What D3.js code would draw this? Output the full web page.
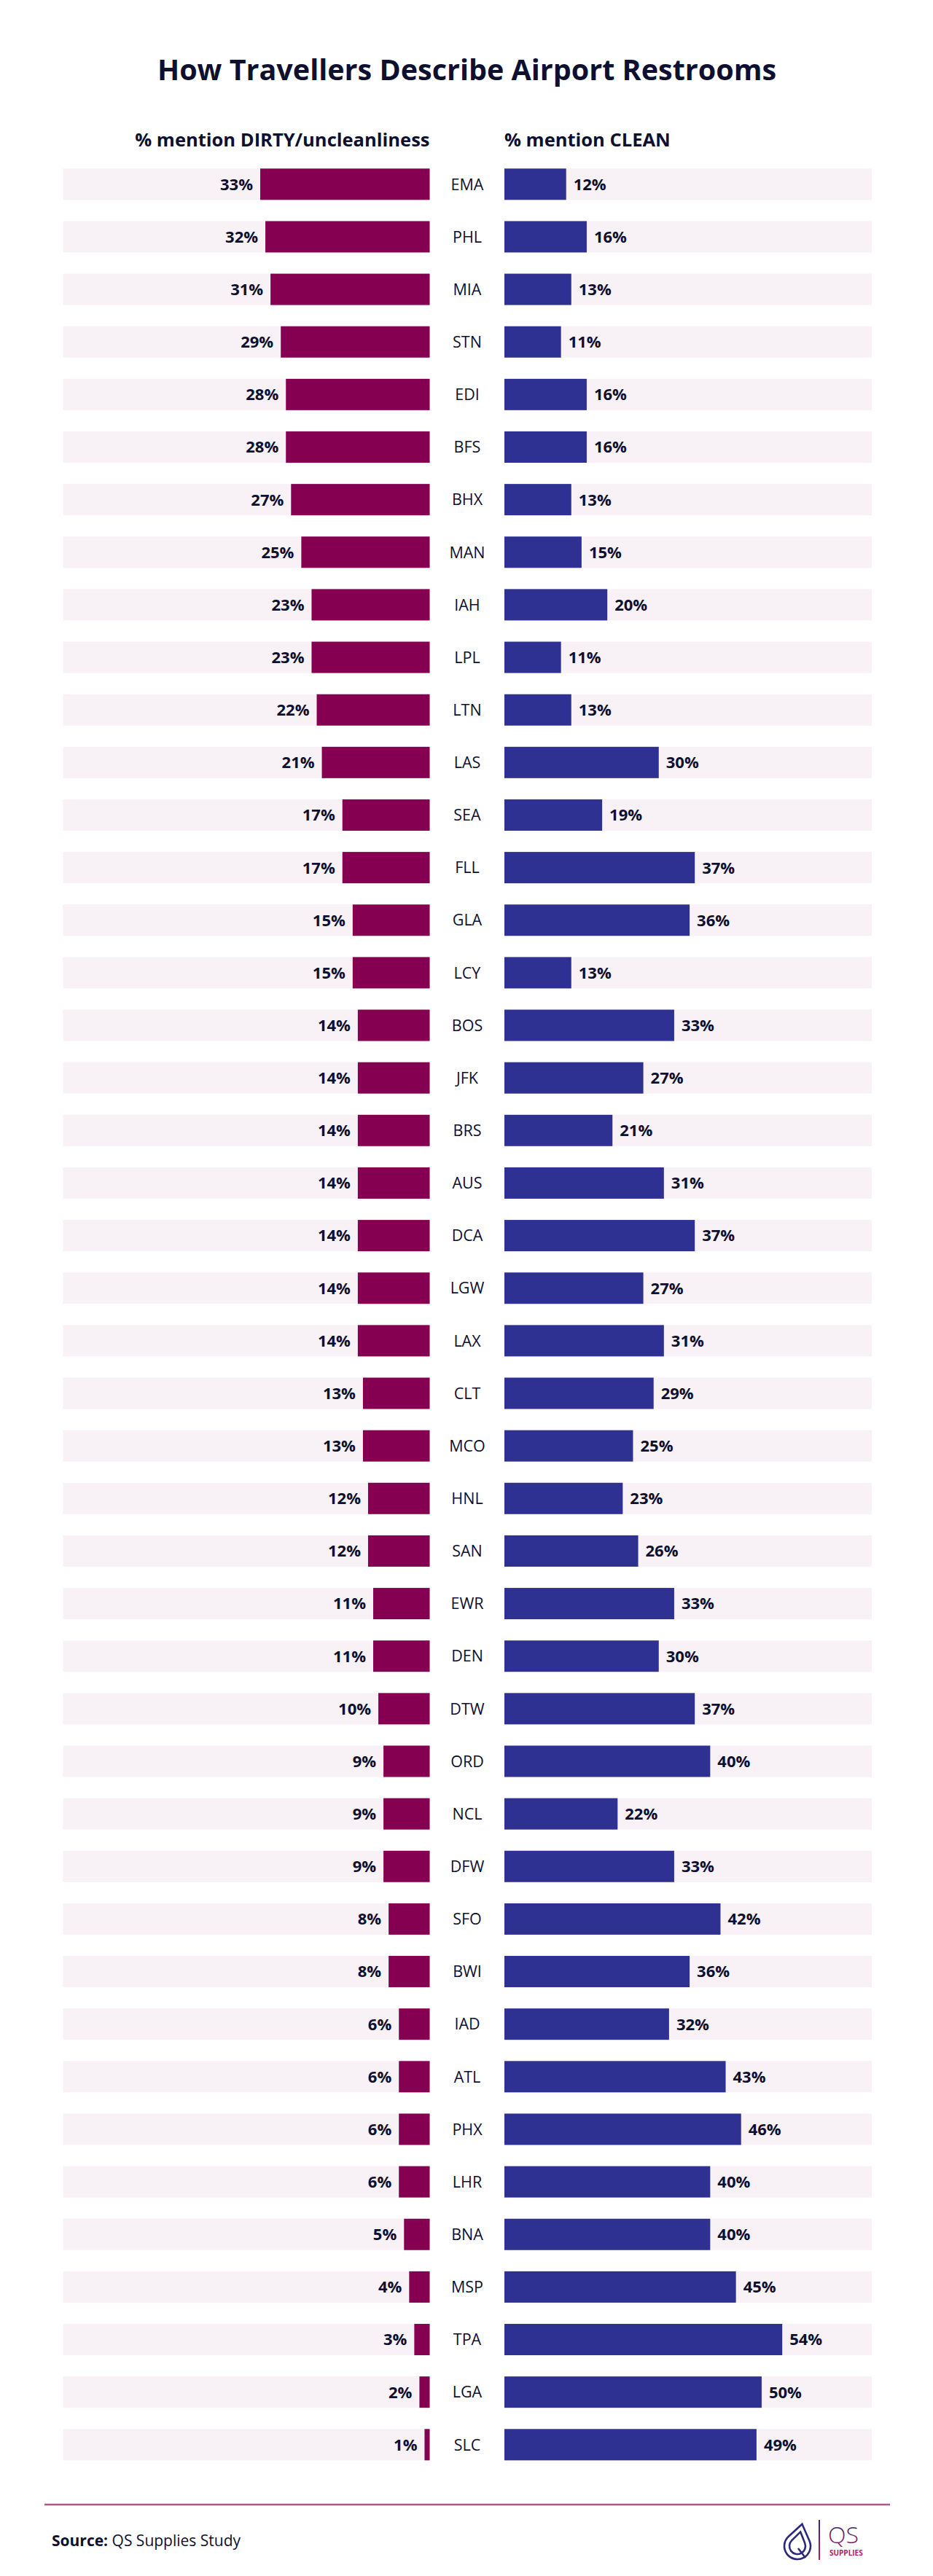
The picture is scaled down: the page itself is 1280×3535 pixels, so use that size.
<!DOCTYPE html>
<html>
<head>
<meta charset="utf-8">
<script src="https://cdn.jsdelivr.net/npm/d3@7"></script>
<style>
  body { margin: 0; background: #fff; }
  svg { display: block; font-family: "Open Sans", sans-serif; }
</style>
</head>
<body>
<div id="chart"></div>
<script>
// airports, top to bottom
const airports = ["EMA","PHL","MIA","STN","EDI","BFS","BHX","MAN","IAH","LPL","LTN","LAS","SEA","FLL","GLA","LCY",
  "BOS","JFK","BRS","AUS","DCA","LGW","LAX","CLT","MCO","HNL","SAN","EWR","DEN","DTW","ORD","NCL","DFW","SFO",
  "BWI","IAD","ATL","PHX","LHR","BNA","MSP","TPA","LGA","SLC"];
// % mention DIRTY/uncleanliness
const dirtyPct = [33,32,31,29,28,28,27,25,23,23,22,21,17,17,15,15,14,14,14,14,14,14,14,13,13,12,12,11,11,10,9,9,9,8,8,6,6,6,6,5,4,3,2,1];
// % mention CLEAN
const cleanPct = [12,16,13,11,16,16,13,15,20,11,13,30,19,37,36,13,33,27,21,31,37,27,31,29,25,23,26,33,30,37,40,22,33,42,36,32,43,46,40,40,45,54,50,49];

const headers = ["% mention DIRTY/uncleanliness", "% mention CLEAN"];

const width = 1280, height = 3535;
const dark = "#0e1030", dirtyCol = "#850050", cleanCol = "#2e3192", trackCol = "#f8f1f5";
const panelMax = 71.4; // % shown by the full pale track
const barH = 43;

const rows = airports.map((a, i) => ({code: a, dirty: dirtyPct[i], clean: cleanPct[i]}));

const svg = d3.select("#chart").append("svg")
    .attr("width", width)
    .attr("height", height);

const xDirty = d3.scaleLinear().domain([0, panelMax]).range([589.5, 86.5]);
const xClean = d3.scaleLinear().domain([0, panelMax]).range([692, 1196]);
const y = d3.scalePoint().domain(airports).range([252.8, 3354.8]);

svg.append("text")
    .attr("x", width / 2 + 0.5)
    .attr("y", 110)
    .attr("text-anchor", "middle")
    .attr("font-size", 39.5)
    .attr("font-weight", 700)
    .attr("fill", dark)
    .text("How Travellers Describe Airport Restrooms");

svg.append("text")
    .attr("x", xDirty(0))
    .attr("y", 201)
    .attr("text-anchor", "end")
    .attr("font-size", 25.5)
    .attr("font-weight", 700)
    .attr("fill", dark)
    .text(headers[0]);

svg.append("text")
    .attr("x", xClean(0))
    .attr("y", 201)
    .attr("font-size", 25.5)
    .attr("font-weight", 700)
    .attr("fill", dark)
    .text(headers[1]);

const row = svg.append("g")
  .selectAll("g")
  .data(rows)
  .join("g")
    .attr("transform", d => `translate(0,${y(d.code) - barH / 2})`);

// pale tracks
row.append("rect")
    .attr("x", xDirty(panelMax))
    .attr("width", xDirty(0) - xDirty(panelMax))
    .attr("height", barH)
    .attr("fill", trackCol);

row.append("rect")
    .attr("x", xClean(0))
    .attr("width", xClean(panelMax) - xClean(0))
    .attr("height", barH)
    .attr("fill", trackCol);

row.append("rect")
    .attr("x", d => xDirty(d.dirty))
    .attr("width", d => xDirty(0) - xDirty(d.dirty))
    .attr("height", barH)
    .attr("fill", dirtyCol);

row.append("rect")
    .attr("x", xClean(0))
    .attr("width", d => xClean(d.clean) - xClean(0))
    .attr("height", barH)
    .attr("fill", cleanCol);

row.append("text")
    .attr("x", d => xDirty(d.dirty) - 10)
    .attr("y", barH / 2)
    .attr("dy", "0.36em")
    .attr("text-anchor", "end")
    .attr("font-size", 22)
    .attr("font-weight", 700)
    .attr("fill", dark)
    .text(d => d.dirty + "%");

row.append("text")
    .attr("x", d => xClean(d.clean) + 10)
    .attr("y", barH / 2)
    .attr("dy", "0.36em")
    .attr("font-size", 22)
    .attr("font-weight", 700)
    .attr("fill", dark)
    .text(d => d.clean + "%");

row.append("text")
    .attr("x", 641)
    .attr("y", barH / 2)
    .attr("dy", "0.36em")
    .attr("text-anchor", "middle")
    .attr("font-size", 21.5)
    .attr("fill", dark)
    .text(d => d.code);

// footer
svg.append("line")
    .attr("x1", 61).attr("x2", 1221)
    .attr("y1", 3437).attr("y2", 3437)
    .attr("stroke", "#a85a8c")
    .attr("stroke-width", 2.5);

const src = svg.append("text")
    .attr("x", 71)
    .attr("y", 3494)
    .attr("font-size", 21)
    .attr("fill", dark);
src.append("tspan").attr("font-weight", 700).text("Source:");
src.append("tspan").text(" QS Supplies Study");

// logo
const defs = svg.append("defs");
const grad = defs.append("linearGradient")
    .attr("id", "qsu")
    .attr("gradientUnits", "userSpaceOnUse")
    .attr("x1", 0).attr("y1", 3458).attr("x2", 0).attr("y2", 3514);
grad.append("stop").attr("offset", "0%").attr("stop-color", "#2b2a7a");
grad.append("stop").attr("offset", "100%").attr("stop-color", "#c2185b");

function drop(r, h) {
  const tx = r * Math.sqrt(h * h - r * r) / h, ty = -r * r / h;
  return `M0,${-h}L${tx},${ty}A${r},${r} 0 1 1 ${-tx},${ty}Z`;
}
const logo = svg.append("g")
    .attr("transform", "translate(1094,3494)")
    .attr("fill", "none")
    .attr("stroke", "url(#qsu)")
    .attr("stroke-width", 2.6);
logo.append("path").attr("d", drop(18, 31)).attr("transform", "rotate(12)");
logo.append("path").attr("d", drop(11, 20)).attr("transform", "rotate(12)");
logo.append("line").attr("x1", 1).attr("y1", 3).attr("x2", 11).attr("y2", 16);

svg.append("line")
    .attr("x1", 1124).attr("x2", 1124)
    .attr("y1", 3458).attr("y2", 3513)
    .attr("stroke", "url(#qsu)")
    .attr("stroke-width", 2);

svg.append("text")
    .attr("x", 1136)
    .attr("y", 3490)
    .attr("font-size", 32)
    .attr("font-weight", 300)
    .attr("fill", "url(#qsu)")
    .text("QS");

svg.append("text")
    .attr("x", 1138)
    .attr("y", 3507)
    .attr("font-size", 10)
    .attr("font-weight", 700)
    .attr("fill", "#b01a6a")
    .text("SUPPLIES");
</script>
</body>
</html>
